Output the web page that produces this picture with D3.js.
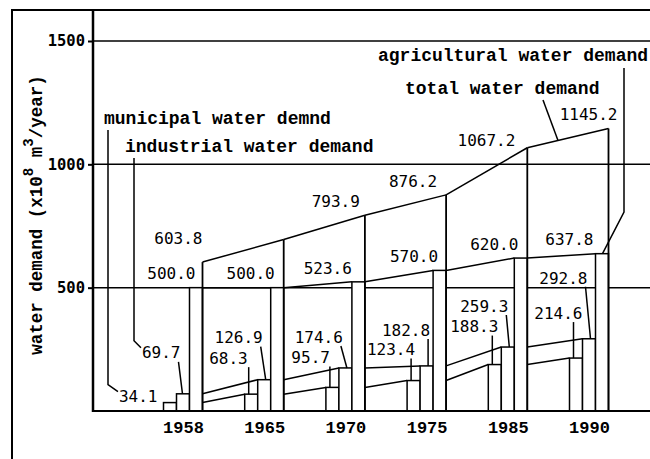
<!DOCTYPE html>
<html>
<head>
<meta charset="utf-8">
<script src="https://cdn.jsdelivr.net/npm/d3@7"></script>
<style>
body { margin: 0; background: #fff; }
svg { display: block; }
text { fill: #000; }
</style>
</head>
<body>
<svg id="chart" width="650" height="459"></svg>
<script>
// water demand, in 10^8 m3 per year
const years = ["1958", "1965", "1970", "1975", "1985", "1990"];
const municipal = [34.1, 68.3, 95.7, 123.4, 188.3, 214.6];
const industrial = [69.7, 126.9, 174.6, 182.8, 259.3, 292.8];
const agricultural = [500.0, 500.0, 523.6, 570.0, 620.0, 637.8];
const total = [603.8, 695.2, 793.9, 876.2, 1067.2, 1145.2];
const yTicks = [500, 1000, 1500];
const seriesNames = ["municipal", "industrial", "agricultural"];

// label placement: [dx from the group's right edge, dy from the value's y], right aligned
const labelAt = {
    total: [[0, -24], null, [-5, -14], [-9, -14], [-12, -8], [9, -14]],
    agricultural: [[-7, -14], [-9, -14], [-13, -14], [-8, -14], [-9, -14], [-15, -14]],
    industrial: [[-22, -42], [-21, -42], [-22, -31], [-16, -36], [-19, -41], [-21, -61]],
    municipal: [[-45, -6], [-36, -36], [-35, -30], [-31, -31], [-29, -38], [-26, -45]]
};

const values = {municipal, industrial, agricultural, total};
const svg = d3.select("#chart");

const y = d3.scaleLinear([0, 1500], [411, 41]);
const x = d3.scalePoint(years, [183, 589]);
const groupW = 39;
const sub = d3.scaleBand(seriesNames, [-groupW / 2, groupW / 2]);
const right = i => x(years[i]) + groupW / 2;
const left = (s, i) => x(years[i]) + sub(s);

const monoNum = "'DejaVu Sans Mono', monospace";
const typeFont = "'Liberation Mono', 'Courier New', monospace";

// frame
svg.append("path")
   .attr("d", "M12,459 V10 H650")
   .attr("fill", "none").attr("stroke", "#000").attr("stroke-width", 2);

// grid lines
svg.append("g")
   .selectAll("line")
   .data(yTicks)
   .join("line")
     .attr("x1", 93).attr("x2", 650)
     .attr("y1", d => y(d)).attr("y2", d => y(d))
     .attr("stroke", "#000").attr("stroke-width", 1.5);

// connectors between successive years
const pairs = d3.pairs(d3.range(years.length));
const conn = svg.append("g").attr("stroke", "#000").attr("stroke-width", 1.5);
seriesNames.concat(["total"]).forEach(s => {
    conn.selectAll(null)
        .data(pairs)
        .join("line")
          .attr("x1", ([a]) => right(a))
          .attr("y1", ([a]) => y(values[s][a]))
          .attr("x2", ([, b]) => s === "total" ? right(b) : left(s, b))
          .attr("y2", ([, b]) => y(values[s][b]));
});

// bars
const bars = years.flatMap((yr, i) => seriesNames.map(s => ({i, s, v: values[s][i]})));
svg.append("g")
   .selectAll("rect")
   .data(bars)
   .join("rect")
     .attr("x", d => left(d.s, d.i))
     .attr("y", d => y(d.v))
     .attr("width", sub.bandwidth())
     .attr("height", d => y(0) - y(d.v))
     .attr("fill", "#fff").attr("stroke", "#000").attr("stroke-width", 1.5);

// total demand as the right edge of each group
svg.append("g")
   .selectAll("line")
   .data(total)
   .join("line")
     .attr("x1", (d, i) => right(i)).attr("x2", (d, i) => right(i))
     .attr("y1", y(0)).attr("y2", d => y(d))
     .attr("stroke", "#000").attr("stroke-width", 1.8);

// axes
const yAxis = svg.append("g")
   .attr("transform", "translate(93,0)")
   .call(d3.axisLeft(y).tickValues(yTicks).tickSize(5).tickPadding(3).tickFormat(d3.format("d")));
yAxis.select(".domain").remove();
yAxis.selectAll(".tick line").attr("stroke-width", 2);
yAxis.selectAll("text")
     .attr("font-family", monoNum).attr("font-size", 15.5).attr("font-weight", "bold").attr("fill", "#000");

const xAxis = svg.append("g")
   .attr("transform", "translate(0,411)")
   .call(d3.axisBottom(x).tickSize(0).tickPadding(10));
xAxis.select(".domain").remove();
xAxis.selectAll("text")
     .attr("font-family", typeFont).attr("font-size", 17).attr("font-weight", "bold").attr("fill", "#000");

svg.append("line").attr("x1", 93).attr("x2", 93).attr("y1", 10).attr("y2", 412)
   .attr("stroke", "#000").attr("stroke-width", 2.5);
svg.append("line").attr("x1", 92).attr("x2", 650).attr("y1", y(0)).attr("y2", y(0))
   .attr("stroke", "#000").attr("stroke-width", 2.2);

// y title
const title = svg.append("text")
   .attr("transform", "translate(42,215) rotate(-90)")
   .attr("text-anchor", "middle")
   .attr("font-family", typeFont).attr("font-size", 17.5).attr("font-weight", "bold");
title.append("tspan").text("water demand (x10");
title.append("tspan").attr("dy", -9).attr("font-size", 14).text("8");
title.append("tspan").attr("dy", 9).text(" m");
title.append("tspan").attr("dy", -9).attr("font-size", 14).text("3");
title.append("tspan").attr("dy", 9).text("/year)");

// value labels
const labels = {};
["total", "agricultural", "industrial", "municipal"].forEach(s => {
    labels[s] = [];
    values[s].forEach((v, i) => {
        const at = labelAt[s][i];
        if (!at) return;
        const cy = y(v) + at[1];
        const xr = right(i) + at[0];
        const t = svg.append("text")
           .attr("x", xr).attr("y", cy + 5.8)
           .attr("text-anchor", "end")
           .attr("font-family", monoNum).attr("font-size", 16)
           .text(v.toFixed(1));
        labels[s][i] = {cy, xr, xl: xr - t.node().getComputedTextLength()};
    });
});

// leader lines
const lead = svg.append("g").attr("fill", "none").attr("stroke", "#000").attr("stroke-width", 1.5);
d3.range(1, years.length).forEach(i => {
    const m = labels.municipal[i], n = labels.industrial[i];
    const mx = left("municipal", i) + 4;
    const nx = left("industrial", i) + sub.bandwidth() - 5;
    lead.append("path").attr("d", `M${mx},${m.cy + 9}V${y(municipal[i])}`);
    lead.append("path").attr("d", `M${n.xr - 2},${n.cy + 9}L${nx},${y(industrial[i])}`);
});
{
    const n = labels.industrial[0];
    lead.append("path").attr("d", `M${n.xr - 2},${n.cy + 10}L${left("industrial", 0) + 6},${y(industrial[0])}`);
}

// legend texts with their leaders
const legend = [
    {text: "agricultural water demand", x: 378, y: 61},
    {text: "total water demand", x: 405, y: 94},
    {text: "municipal water demnd", x: 104, y: 124},
    {text: "industrial water demand", x: 125, y: 152}
];
svg.append("g")
   .selectAll("text")
   .data(legend)
   .join("text")
     .attr("x", d => d.x).attr("y", d => d.y)
     .attr("font-family", typeFont).attr("font-size", 18).attr("font-weight", "bold")
     .text(d => d.text);

{
    const m = labels.municipal[0];
    lead.append("path").attr("d", `M108,130V${m.cy - 12}L${m.xl - 1},${m.cy - 5}`);
    const n = labels.industrial[0];
    lead.append("path").attr("d", `M134,158V${n.cy - 11}L${n.xl - 1},${n.cy - 4}`);
    const a = years.length - 2, b = years.length - 1;
    const t = (558 - right(a)) / (right(b) - right(a));
    const ty = y(total[a]) + t * (y(total[b]) - y(total[a]));
    lead.append("path").attr("d", `M543,100L558,${ty}`);
    lead.append("path").attr("d", `M624,68V212L${right(b) - 6},${y(agricultural[b])}`);
}
</script>
</body>
</html>
